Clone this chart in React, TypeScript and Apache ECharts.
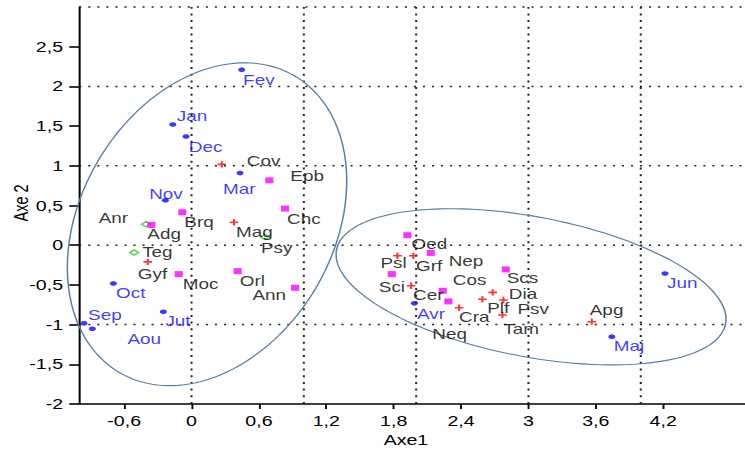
import { useEffect, useRef } from 'react';
import * as echarts from 'echarts';

// The drawing is laid out on a narrower canvas and widened horizontally by CSS,
// which gives the broad, stretched lettering of this factor map.
const STRETCH = 1.35;
const CHART_W = 552;
const CHART_H = 452;
const FONT = '"Liberation Sans", Arial, sans-serif';

const X_MIN = -1;
const X_MAX = 4.93;
const Y_MIN = -2;
const Y_MAX = 3;
const X_TICKS = [-0.6, 0, 0.6, 1.2, 1.8, 2.4, 3, 3.6, 4.2];
const Y_TICKS = [-2, -1.5, -1, -0.5, 0, 0.5, 1, 1.5, 2, 2.5];
const GRID_X = [0, 1, 2, 3, 4];
const GRID_Y = [-1, 0, 1, 2, 3];

// Months (blue dots)
const monthNames = ['Jan', 'Fev', 'Mar', 'Avr', 'Maj', 'Jun', 'Jut', 'Aou', 'Sep', 'Oct', 'Nov', 'Dec'];
const monthAxe1 = [-0.167, 0.447, 0.432, 1.984, 3.742, 4.216, -0.251, -0.883, -0.957, -0.696, -0.233, -0.049];
const monthAxe2 = [1.52, 2.211, 0.908, -0.732, -1.152, -0.356, -0.838, -1.052, -0.984, -0.481, 0.565, 1.369];

// Species shown as magenta squares
const squareNames = ['Epb', 'Chc', 'Brq', 'Adg', 'Moc', 'Orl', 'Ann', 'Oed', 'Nep', 'Sci', 'Cos', 'Neq', 'Scs'];
const squareAxe1 = [0.693, 0.833, -0.082, -0.358, -0.114, 0.411, 0.922, 1.922, 2.13, 1.783, 2.237, 2.287, 2.798];
const squareAxe2 = [0.817, 0.461, 0.415, 0.255, -0.364, -0.327, -0.536, 0.126, -0.097, -0.364, -0.574, -0.707, -0.305];

// Species shown as red crosses
const crossNames = ['Cov', 'Mag', 'Gyf', 'Psl', 'Grf', 'Cer', 'Cra', 'Plf', 'Dia', 'Psv', 'Tam', 'Apg'];
const crossAxe1 = [0.269, 0.378, -0.39, 1.833, 1.975, 1.955, 2.382, 2.59, 2.682, 2.777, 2.768, 3.564];
const crossAxe2 = [1.018, 0.289, -0.21, -0.134, -0.134, -0.511, -0.788, -0.682, -0.594, -0.691, -0.879, -0.963];

// Species shown as green diamonds
const diamondNames = ['Anr', 'Psy', 'Teg'];
const diamondAxe1 = [-0.405, 0.654, -0.512];
const diamondAxe2 = [0.264, 0.104, -0.092];

// Group ellipses: centre and two conjugate half-axes, in axis units
const ellipseCenter = [
  [0.138, 0.264],
  [3.023, -0.524],
];
const ellipseAxisU = [
  [0.781, 1.867],
  [1.732, -0.466],
];
const ellipseAxisV = [
  [0.968, -0.805],
  [-0.117, -0.866],
];

// Label placement around each marker: [dx, dy, align]
const LABEL_LAYOUT: Record<string, [number, number, string?]> = {
  Jan: [3, -8], Fev: [1, 11], Mar: [-12.6, 16], Avr: [2, 11], Maj: [1.5, 10], Jun: [1.5, 10],
  Jut: [1.5, 10], Aou: [26, 11], Sep: [3, -8], Oct: [2, 10], Nov: [-12, -6], Dec: [2, 11],
  Epb: [15.5, -4], Chc: [1.5, 11], Brq: [1.5, 10], Adg: [-3, 9], Moc: [3, 10], Orl: [1.5, 10],
  Ann: [-6.7, 8, 'right'], Oed: [3, 9], Nep: [13.3, 8], Sci: [-9.6, 13], Cos: [7.4, -10],
  Neq: [-11.9, 33], Scs: [0.7, 9],
  Cov: [18.5, -3], Mag: [1.5, 10], Gyf: [-7.4, 12], Psl: [-12.6, 8], Grf: [2, 11], Cer: [1.5, 10],
  Cra: [0, 10], Plf: [3.6, 9], Dia: [11.9, 2], Psv: [10.4, 9], Tam: [0.7, 14], Apg: [-1.5, -11],
  Anr: [-13.3, -6, 'right'], Psy: [-3, 11], Teg: [6, 0],
};

const BLUE = '#0a0aff';
const MAGENTA = '#ff00ff';
const RED = '#ff0000';
const GREEN = '#22cc22';
const ELLIPSE_COLOR = '#5a7ea3';
const CROSS_PATH = 'path://M0,3.8H10V6.2H0Z M3.8,0H6.2V10H3.8Z';

const commaDecimal = (v: number) => String(Number(v.toFixed(2))).replace('.', ',');

function pointSeries(
  names: string[],
  xs: number[],
  ys: number[],
  textColor: string,
  symbol: string,
  symbolSize: number[],
  itemStyle: any,
  z: number,
) {
  return {
    type: 'scatter',
    z,
    symbol,
    symbolSize,
    itemStyle,
    silent: true,
    data: names.map((name, i) => {
      const lay = LABEL_LAYOUT[name] || [2, 10];
      return {
        name,
        value: [xs[i], ys[i]],
        label: { offset: [lay[0], lay[1]], align: lay[2] || 'left' },
      };
    }),
    label: {
      show: true,
      position: 'inside',
      formatter: '{b}',
      color: textColor,
      fontSize: 14,
      fontFamily: FONT,
      align: 'left',
      verticalAlign: 'middle',
      textBorderWidth: 0,
    },
  };
}

export default function App() {
  const ref = useRef<HTMLDivElement>(null);

  useEffect(() => {
    if (!ref.current) return;
    const chart = echarts.init(ref.current, null, { renderer: 'svg' });

    const gridData = [
      ...GRID_X.map((v) => [v, 0, 0]),
      ...GRID_Y.map((v) => [0, v, 1]),
    ];
    const ellipseData = ellipseCenter.map((c, i) => [
      c[0], c[1], ellipseAxisU[i][0], ellipseAxisU[i][1], ellipseAxisV[i][0], ellipseAxisV[i][1],
    ]);

    chart.setOption({
      animation: false,
      backgroundColor: '#ffffff',
      grid: {
        left: 58.7,
        right: 0,
        top: 7,
        bottom: 48,
        containLabel: false,
        outerBoundsMode: 'none',
      },
      xAxis: {
        type: 'value',
        min: X_MIN,
        max: X_MAX,
        axisLine: { show: true, onZero: false, lineStyle: { color: '#000', width: 1.6 } },
        axisTick: { show: true, customValues: X_TICKS, length: 5, lineStyle: { color: '#000', width: 1.4 } },
        axisLabel: {
          show: true,
          customValues: X_TICKS,
          formatter: commaDecimal,
          color: '#000',
          fontSize: 14.5,
          fontFamily: FONT,
          margin: 9,
        },
        splitLine: { show: false },
      },
      yAxis: {
        type: 'value',
        min: Y_MIN,
        max: Y_MAX,
        axisLine: { show: true, onZero: false, lineStyle: { color: '#000', width: 1.5 } },
        axisTick: { show: true, customValues: Y_TICKS, length: 7.4, lineStyle: { color: '#000', width: 1.6 } },
        axisLabel: {
          show: true,
          customValues: Y_TICKS,
          formatter: commaDecimal,
          color: '#000',
          fontSize: 14.5,
          fontFamily: FONT,
          margin: 12,
        },
        splitLine: { show: false },
      },
      graphic: [
        {
          type: 'text',
          x: 300.7,
          y: 440,
          style: { text: 'Axe1', font: `14.5px ${FONT}`, fill: '#000', align: 'center', verticalAlign: 'middle' },
        },
        {
          type: 'text',
          x: 15.6,
          y: 203,
          rotation: Math.PI / 2,
          style: { text: 'Axe 2', font: `14.5px ${FONT}`, fill: '#000', align: 'center', verticalAlign: 'middle' },
        },
      ],
      series: [
        {
          // dotted reference grid
          type: 'custom',
          z: 1,
          silent: true,
          clip: false,
          encode: { x: 0, y: 1 },
          data: gridData,
          renderItem: (_p: any, api: any) => {
            const vertical = api.value(2) === 0;
            const a = vertical ? api.coord([api.value(0), Y_MIN]) : api.coord([X_MIN, api.value(1)]);
            const b = vertical ? api.coord([api.value(0), Y_MAX]) : api.coord([X_MAX, api.value(1)]);
            return {
              type: 'line',
              shape: { x1: a[0], y1: a[1], x2: b[0], y2: b[1] },
              style: {
                stroke: '#222',
                lineWidth: 1.5,
                lineDash: vertical ? [2, 4.7] : [1.5, 5.2],
                fill: 'none',
              },
            };
          },
        },
        {
          // group ellipses
          type: 'custom',
          z: 2,
          silent: true,
          clip: false,
          encode: { x: 0, y: 1 },
          data: ellipseData,
          renderItem: (_p: any, api: any) => {
            const cx = api.value(0);
            const cy = api.value(1);
            const ux = api.value(2);
            const uy = api.value(3);
            const vx = api.value(4);
            const vy = api.value(5);
            const pts: number[][] = [];
            const n = 160;
            for (let i = 0; i < n; i++) {
              const t = (i / n) * Math.PI * 2;
              pts.push(api.coord([cx + ux * Math.cos(t) + vx * Math.sin(t), cy + uy * Math.cos(t) + vy * Math.sin(t)]));
            }
            return {
              type: 'polygon',
              shape: { points: pts },
              style: { fill: 'none', stroke: ELLIPSE_COLOR, lineWidth: 1.1 },
            };
          },
        },
        pointSeries(diamondNames, diamondAxe1, diamondAxe2, '#000', 'diamond', [6.7, 5.5],
          { color: '#ffffff', borderColor: GREEN, borderWidth: 1.2 }, 3),
        pointSeries(squareNames, squareAxe1, squareAxe2, '#000', 'rect', [6, 6],
          { color: MAGENTA }, 4),
        pointSeries(crossNames, crossAxe1, crossAxe2, '#000', CROSS_PATH, [6.4, 6.4],
          { color: RED }, 5),
        pointSeries(monthNames, monthAxe1, monthAxe2, BLUE, 'circle', [5.2, 4.6],
          { color: BLUE }, 6),
      ],
    });

    return () => chart.dispose();
  }, []);

  return (
    <div
      ref={ref}
      style={{
        position: 'fixed',
        left: 0,
        top: 0,
        width: CHART_W,
        height: CHART_H,
        transform: `scaleX(${STRETCH})`,
        transformOrigin: '0 0',
        background: '#fff',
      }}
    />
  );
}
